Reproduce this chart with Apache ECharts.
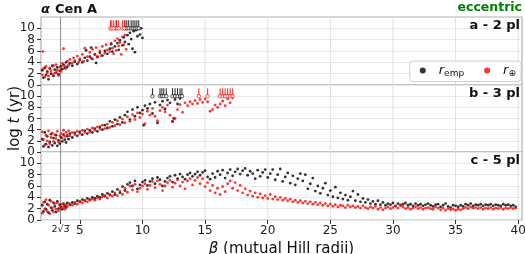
<!DOCTYPE html>
<html><head><meta charset="utf-8">
<script src="https://cdn.jsdelivr.net/npm/echarts@6/dist/echarts.min.js"></script>
<style>html,body{margin:0;padding:0;background:#fff}#c{width:525px;height:254px}</style>
</head><body><div id="c"></div>
<script>
// ---------- data (beta in mutual Hill radii, log t in yr) ----------
const xTickValues=[2*Math.sqrt(3),5,10,15,20,25,30,35,40];
const yTickValues=[0,2,4,6,8,10];
const panelLabels=['a - 2 pl','b - 3 pl','c - 5 pl'];
const seriesNames=['remp','rearth'];
const survivalLogT=10;

// panel a - 2 planets
const aEmp=[[2.0,2.6],[2.1,1.3],[2.2,3.0],[2.3,1.8],[2.4,2.4],[2.5,1.0],[2.6,2.9],[2.7,2.0],[2.8,3.4],[2.9,1.6],[3.0,2.7],[3.1,2.2],[3.2,3.1],[3.3,1.9],[3.4,2.5],[3.5,3.3],[3.6,2.8],[3.7,3.6],[3.8,3.0],[3.9,4.0],[4.0,3.2],[4.2,3.8],[4.4,3.4],[4.6,4.1],[4.8,3.7],[5.0,4.4],[5.2,4.0],[5.4,4.8],[5.5,6.1],[5.6,4.3],[5.8,5.0],[5.9,6.6],[6.0,4.6],[6.2,5.4],[6.3,3.9],[6.4,5.0],[6.6,5.7],[6.8,5.2],[7.0,6.0],[7.2,5.5],[7.4,6.4],[7.5,7.2],[7.6,5.9],[7.8,6.8],[8.0,7.4],[8.1,6.2],[8.2,7.9],[8.4,7.0],[8.5,8.4],[8.6,7.6],[8.8,8.8],[8.9,7.2],[9.0,9.2],[9.1,8.1],[9.2,6.4],[9.3,9.5],[9.4,5.8],[9.5,9.7],[9.6,8.6],[9.7,9.9],[9.8,8.9],[9.9,10.0],[10.0,8.3]];
const aEarth=[[2.0,1.8],[2.05,5.9],[2.1,2.9],[2.2,1.4],[2.3,3.3],[2.4,2.2],[2.5,1.6],[2.6,3.0],[2.7,2.5],[2.8,1.9],[2.9,3.4],[3.0,2.1],[3.1,3.6],[3.2,2.6],[3.3,1.7],[3.4,3.1],[3.5,2.4],[3.6,3.8],[3.7,6.4],[3.8,3.3],[3.9,2.9],[4.0,4.2],[4.1,3.5],[4.2,4.5],[4.4,3.9],[4.5,4.8],[4.6,4.3],[4.8,5.1],[4.9,4.0],[5.0,4.6],[5.2,5.4],[5.3,4.2],[5.4,6.5],[5.6,5.0],[5.8,5.8],[5.9,4.7],[6.0,6.3],[6.2,5.4],[6.3,6.6],[6.4,4.9],[6.6,6.0],[6.7,5.2],[6.8,6.8],[7.0,5.6],[7.1,7.1],[7.2,6.2],[7.4,5.9],[7.5,7.4],[7.6,6.5],[7.7,5.5],[7.8,7.8],[7.9,6.1],[8.0,8.2],[8.1,6.9],[8.2,7.5],[8.3,5.4],[8.4,8.5],[8.5,7.1],[8.6,8.8],[8.7,6.3]];
const aEmpSurvivors=[7.9,8.6,8.75,8.9,9.1,9.25,9.4,9.55,9.7];
const aEarthSurvivors=[7.45,7.55,7.7,7.95,8.1,8.4,8.55];

// panel b - 3 planets
const bEmp=[[2.0,2.3],[2.1,1.0],[2.2,3.5],[2.3,1.4],[2.4,2.8],[2.5,0.9],[2.6,1.8],[2.7,3.2],[2.8,1.2],[2.9,2.5],[3.0,1.6],[3.1,3.0],[3.2,1.1],[3.3,2.1],[3.4,1.5],[3.5,2.6],[3.6,1.9],[3.7,3.1],[3.8,2.2],[3.9,1.7],[4.0,2.8],[4.1,2.3],[4.2,3.3],[4.4,2.6],[4.6,3.4],[4.8,2.9],[5.0,3.6],[5.2,3.1],[5.4,3.8],[5.6,3.3],[5.8,3.9],[6.0,3.5],[6.2,4.2],[6.4,3.7],[6.6,4.5],[6.8,4.0],[7.0,4.8],[7.2,4.3],[7.4,5.5],[7.6,4.6],[7.8,5.8],[8.0,5.0],[8.2,6.2],[8.4,5.3],[8.6,6.6],[8.8,7.2],[9.0,5.8],[9.2,7.6],[9.4,6.4],[9.6,8.0],[9.8,7.0],[10.0,7.5],[10.1,4.8],[10.2,8.3],[10.4,7.8],[10.6,8.6],[10.8,6.9],[11.0,8.9],[11.2,5.2],[11.4,8.4],[11.6,9.1],[11.8,7.7],[12.0,9.3],[12.2,8.8],[12.4,5.5],[12.5,6.0],[12.6,9.4],[12.8,8.6],[13.0,9.6]];
const bEarth=[[2.0,3.6],[2.1,2.2],[2.2,1.3],[2.3,3.0],[2.4,2.0],[2.5,3.8],[2.6,1.5],[2.7,2.6],[2.8,3.4],[2.9,1.9],[3.0,3.1],[3.1,2.4],[3.2,3.7],[3.3,1.8],[3.4,2.9],[3.5,3.3],[3.6,2.5],[3.7,3.9],[3.8,2.8],[3.9,3.5],[4.0,3.0],[4.1,3.8],[4.2,2.9],[4.4,3.5],[4.6,3.1],[4.8,3.7],[5.0,3.3],[5.2,3.9],[5.4,3.5],[5.6,4.1],[5.8,3.6],[6.0,4.3],[6.2,3.9],[6.4,4.5],[6.6,4.1],[6.8,4.8],[7.0,4.2],[7.2,5.0],[7.4,4.4],[7.6,5.3],[7.8,4.7],[8.0,5.6],[8.2,4.9],[8.4,5.9],[8.6,5.2],[8.8,6.3],[9.0,5.5],[9.2,6.7],[9.4,5.8],[9.6,7.0],[9.8,6.2],[10.0,6.8],[10.2,5.1],[10.4,7.3],[10.6,6.6],[10.8,7.8],[11.0,6.4],[11.2,5.6],[11.4,7.4],[11.6,8.0],[11.8,7.2],[12.0,8.4],[12.2,6.6],[12.4,5.4],[12.6,6.0],[12.8,7.6],[13.0,8.5],[13.2,7.1],[13.4,8.8],[13.6,8.3],[13.8,9.0],[14.0,8.6],[14.2,9.2],[14.4,8.7],[14.6,9.4],[14.8,8.9],[15.0,9.5],[15.2,9.0],[15.4,7.3],[15.6,7.6],[15.8,8.4],[16.0,8.0],[16.2,8.6],[16.4,9.1],[16.6,8.3],[16.8,9.5],[17.0,8.8],[17.2,9.7]];
const bEmpSurvivors=[10.8,11.4,11.55,11.7,11.9,12.4,12.6,12.8,13.0,13.15];
const bEarthSurvivors=[14.5,15.2,16.2,16.4,16.6,16.8,17.0,17.2];

// panel c - 5 planets
const cEmp=[[2.0,2.6],[2.1,1.5],[2.2,3.2],[2.3,1.9],[2.4,2.8],[2.5,1.3],[2.6,3.5],[2.7,2.2],[2.8,1.7],[2.9,3.0],[3.0,2.4],[3.1,1.4],[3.2,3.3],[3.3,2.0],[3.4,2.7],[3.5,2.3],[3.6,1.9],[3.7,2.9],[3.8,2.5],[3.9,2.2],[4.0,3.0],[4.2,2.7],[4.4,3.1],[4.6,2.9],[4.8,3.4],[5.0,3.2],[5.2,3.6],[5.4,3.4],[5.6,3.8],[5.8,3.6],[6.0,4.0],[6.2,3.8],[6.4,4.2],[6.6,4.0],[6.8,4.5],[7.0,4.2],[7.2,4.7],[7.4,4.4],[7.6,5.0],[7.8,4.5],[8.0,5.4],[8.2,4.8],[8.4,5.9],[8.6,5.2],[8.8,6.3],[9.0,6.6],[9.2,6.0],[9.4,6.9],[9.6,5.5],[9.8,6.2],[10.0,6.7],[10.2,7.0],[10.4,6.1],[10.6,6.8],[10.8,7.3],[11.0,6.4],[11.2,7.5],[11.4,7.1],[11.6,6.0],[11.8,6.8],[12.0,7.4],[12.2,7.7],[12.4,6.7],[12.6,7.9],[12.8,7.3],[13.0,8.1],[13.2,7.6],[13.4,7.2],[13.6,8.0],[13.8,8.3],[14.0,7.7],[14.2,8.1],[14.4,8.5],[14.6,7.9],[14.8,8.4],[15.0,8.7],[15.2,7.6],[15.4,7.2],[15.6,8.2],[15.8,7.5],[16.0,8.6],[16.2,8.0],[16.4,8.8],[16.6,7.4],[16.8,8.3],[17.0,8.9],[17.2,7.8],[17.4,8.5],[17.6,9.0],[17.8,8.1],[18.0,8.7],[18.2,9.1],[18.4,7.9],[18.6,8.6],[18.8,8.2],[19.0,7.3],[19.2,8.8],[19.4,7.7],[19.6,8.4],[19.8,8.9],[20.0,7.5],[20.2,8.2],[20.4,8.9],[20.6,7.1],[20.8,8.0],[21.0,9.0],[21.2,6.8],[21.4,7.6],[21.6,8.3],[21.8,6.5],[22.0,7.8],[22.2,6.2],[22.4,7.3],[22.6,8.2],[22.8,6.9],[23.0,8.0],[23.2,5.5],[23.4,6.4],[23.6,7.4],[23.8,5.1],[24.0,6.0],[24.2,4.7],[24.4,5.6],[24.6,6.5],[24.8,4.4],[25.0,5.2],[25.2,4.1],[25.4,5.8],[25.6,3.9],[25.8,4.8],[26.0,3.7],[26.2,4.4],[26.4,3.5],[26.6,4.1],[26.8,5.1],[27.0,3.4],[27.2,4.5],[27.4,3.2],[27.6,3.8],[27.8,3.1],[28.0,3.6],[28.2,2.9],[28.4,3.3],[28.6,2.8],[28.8,3.4],[29.0,2.7],[29.2,3.1],[29.4,2.6],[29.6,2.9],[29.8,2.7],[30.0,3.0],[30.2,2.5],[30.4,2.9],[30.6,2.6],[30.8,2.8],[31.0,3.0],[31.2,2.6],[31.4,2.8],[31.6,2.5],[31.8,2.9],[32.0,2.6],[32.2,2.8],[32.4,2.5],[32.6,2.7],[32.8,2.9],[33.0,2.6],[33.2,2.4],[33.4,2.7],[33.6,2.8],[33.8,2.3],[34.0,2.6],[34.2,2.9],[34.4,2.4],[34.6,2.2],[34.8,2.6],[35.0,2.5],[35.2,2.3],[35.4,2.6],[35.6,2.4],[35.8,2.8],[36.0,2.6],[36.2,2.9],[36.4,2.5],[36.6,2.7],[36.8,2.6],[37.0,2.8],[37.2,2.5],[37.4,2.7],[37.6,2.6],[37.8,2.8],[38.0,2.5],[38.2,2.7],[38.4,2.6],[38.6,2.5],[38.8,2.8],[39.0,2.6],[39.2,2.7],[39.4,2.5],[39.6,2.6],[39.8,2.3]];
const cEarth=[[2.0,1.2],[2.1,3.1],[2.2,2.0],[2.3,3.6],[2.4,1.5],[2.5,2.6],[2.6,1.1],[2.7,3.3],[2.8,2.1],[2.9,1.4],[3.0,2.9],[3.1,1.9],[3.2,3.0],[3.3,1.6],[3.4,2.5],[3.5,2.0],[3.6,2.8],[3.7,2.3],[3.8,1.9],[3.9,2.7],[4.0,2.4],[4.2,2.9],[4.4,2.6],[4.6,3.1],[4.8,2.8],[5.0,3.3],[5.2,3.0],[5.4,3.4],[5.6,3.2],[5.8,3.5],[6.0,3.7],[6.2,3.5],[6.4,3.9],[6.6,3.7],[6.8,4.1],[7.0,4.3],[7.2,3.9],[7.4,4.5],[7.6,4.2],[7.8,4.8],[8.0,4.3],[8.2,5.1],[8.4,4.5],[8.6,5.6],[8.8,4.9],[9.0,6.0],[9.2,5.3],[9.4,6.3],[9.6,5.0],[9.8,5.6],[10.0,6.0],[10.2,6.4],[10.4,5.4],[10.6,6.1],[10.8,6.8],[11.0,5.7],[11.2,6.9],[11.4,6.3],[11.6,5.2],[11.8,6.0],[12.0,6.6],[12.2,7.0],[12.4,5.8],[12.6,6.5],[12.8,7.1],[13.0,6.0],[13.2,6.7],[13.4,5.5],[13.6,6.9],[13.8,7.3],[14.0,6.2],[14.2,7.0],[14.4,7.5],[14.6,6.4],[14.8,7.3],[15.0,5.9],[15.2,6.6],[15.4,5.2],[15.6,6.1],[15.8,4.8],[16.0,5.6],[16.2,4.5],[16.4,5.9],[16.6,5.0],[16.8,6.4],[17.0,6.9],[17.2,5.6],[17.4,6.6],[17.6,5.2],[17.8,6.1],[18.0,4.8],[18.2,5.5],[18.4,4.4],[18.6,5.1],[18.8,4.2],[19.0,4.8],[19.2,4.0],[19.4,4.6],[19.6,3.9],[19.8,4.3],[20.0,3.8],[20.2,4.5],[20.4,3.7],[20.6,4.1],[20.8,3.6],[21.0,4.0],[21.2,3.5],[21.4,3.8],[21.6,3.4],[21.8,3.7],[22.0,3.2],[22.2,3.5],[22.4,3.1],[22.6,3.4],[22.8,3.0],[23.0,3.3],[23.2,2.9],[23.4,3.2],[23.6,2.8],[23.8,3.1],[24.0,2.7],[24.2,3.0],[24.4,2.6],[24.6,2.9],[24.8,2.5],[25.0,2.8],[25.2,2.4],[25.4,2.7],[25.6,2.3],[25.8,2.6],[26.0,2.5],[26.2,2.2],[26.4,2.6],[26.6,2.3],[26.8,2.5],[27.0,2.2],[27.2,2.4],[27.4,2.1],[27.6,2.5],[27.8,2.2],[28.0,2.0],[28.2,2.3],[28.4,2.1],[28.6,2.4],[28.8,1.9],[29.0,2.2],[29.2,1.8],[29.4,2.1],[29.6,2.3],[29.8,2.0],[30.0,2.2],[30.2,2.4],[30.4,2.1],[30.6,2.6],[30.8,2.3],[31.0,2.0],[31.2,2.2],[31.4,1.9],[31.6,2.1],[31.8,2.3],[32.0,2.0],[32.2,2.2],[32.4,1.9],[32.6,2.1],[32.8,2.2],[33.0,2.0],[33.2,1.9],[33.4,2.3],[33.6,2.1],[33.8,1.8],[34.0,2.1],[34.2,1.7],[34.4,2.0],[34.6,1.8],[34.8,1.9],[35.0,1.7],[35.2,1.9],[35.4,1.8],[35.6,2.0],[35.8,2.2],[36.0,2.0],[36.2,2.3],[36.4,2.1],[36.6,2.2],[36.8,2.0],[37.0,2.2],[37.2,1.9],[37.4,2.1],[37.6,2.0],[37.8,2.2],[38.0,1.9],[38.2,2.1],[38.4,2.0],[38.6,2.2],[38.8,1.9],[39.0,2.1],[39.2,2.0],[39.4,2.2],[39.6,2.0],[39.8,2.1]];

const panels=[
  {emp:aEmp, earth:aEarth, empSurv:aEmpSurvivors, earthSurv:aEarthSurvivors},
  {emp:bEmp, earth:bEarth, empSurv:bEmpSurvivors, earthSurv:bEarthSurvivors},
  {emp:cEmp, earth:cEarth, empSurv:[], earthSurv:[]}
];

// ---------- layout ----------
const FONT='DejaVu Sans';
const gridTops=[17,85,152], gridHeights=[68,67,68];
const X_MIN=1.9, X_MAX=40.3, Y_MIN=0, Y_MAX=12;
const colors={remp:'#000000', rearth:'#ff0000'};
const sqrt12=2*Math.sqrt(3);
const gridXs=[5,10,15,20,25,30,35,40];

const chart=echarts.init(document.getElementById('c'),null,{renderer:'canvas'});
const grids=[],xAxes=[],yAxes=[],series=[];
panels.forEach((p,i)=>{
  grids.push({left:41,right:3,top:gridTops[i],height:gridHeights[i],show:true,borderColor:'#b0b0b0',borderWidth:1.2,
    backgroundColor:'transparent',containLabel:false,outerBoundsMode:'none'});
  const last=i===2;
  xAxes.push({type:'value',gridIndex:i,min:X_MIN,max:X_MAX,
    axisLine:{show:false},
    axisTick:{show:last,customValues:xTickValues,length:4,lineStyle:{color:'#333'}},
    axisLabel:{show:last,customValues:xTickValues,fontFamily:FONT,fontSize:12,color:'#222',margin:5,
      formatter:v=>Math.abs(v-sqrt12)<0.01?'{s|2√3̅}':String(Math.round(v)),
      rich:{s:{fontSize:9.5,fontFamily:FONT,color:'#222'}}},
    splitLine:{show:false},
    name:last?'{i|β}{n| (mutual Hill radii)}':'',nameLocation:'middle',nameGap:22,
    nameTextStyle:{rich:{i:{fontStyle:'italic',fontSize:15,fontFamily:FONT,color:'#111'},n:{fontSize:15,fontFamily:FONT,color:'#111'}}}
  });
  yAxes.push({type:'value',gridIndex:i,min:Y_MIN,max:Y_MAX,interval:2,
    axisLine:{show:false},
    axisTick:{show:true,customValues:yTickValues,length:4,lineStyle:{color:'#333'}},
    axisLabel:{show:false},
    splitLine:{show:true,lineStyle:{color:'#e8e8e8',width:1}},
    name:i===1?'{n|log }{i|t}{n| (yr)}':'',nameLocation:'middle',nameGap:18,nameRotate:90,
    nameTextStyle:{rich:{i:{fontStyle:'italic',fontSize:15,fontFamily:FONT,color:'#111'},n:{fontSize:15,fontFamily:FONT,color:'#111'}}}
  });
  // guide lines: vertical grid lines and the 2*sqrt(3) reference line, spanning the axis range
  gridXs.concat([sqrt12]).forEach(v=>{
    const isRef=v===sqrt12;
    series.push({type:'line',xAxisIndex:i,yAxisIndex:i,data:[[v,Y_MIN],[v,Y_MAX]],showSymbol:false,symbol:'none',
      silent:true,z:isRef?2:1,animation:false,
      lineStyle:{color:isRef?'#8a8a8a':'#e0e0e0',width:1}});
  });
  series.push({name:'remp',type:'scatter',xAxisIndex:i,yAxisIndex:i,data:p.emp,symbol:'circle',symbolSize:2.8,
    itemStyle:{color:colors.remp},z:3,animation:false});
  series.push({name:'rearth',type:'scatter',xAxisIndex:i,yAxisIndex:i,data:p.earth,symbol:'circle',symbolSize:2.8,
    itemStyle:{color:colors.rearth},z:4,animation:false});
  [['emp',p.empSurv,colors.remp],['earth',p.earthSurv,colors.rearth]].forEach(([k,arr,col])=>{
    if(!arr.length)return;
    const d=arr.map(b=>[b,survivalLogT]);
    series.push({name:'surv-'+k+i,type:'scatter',xAxisIndex:i,yAxisIndex:i,data:d,symbol:'rect',symbolSize:[1.1,8],
      symbolOffset:[0,-4],itemStyle:{color:col},z:5,animation:false});
    series.push({name:'ring-'+k+i,type:'scatter',xAxisIndex:i,yAxisIndex:i,data:d,symbol:'circle',symbolSize:3.5,
      itemStyle:{color:'#fff',borderColor:col,borderWidth:0.8},z:5,animation:false});
  });
});

const titleRich={a:{fontStyle:'italic',fontSize:13,fontFamily:FONT,color:'#111'},b:{fontWeight:'bold',fontSize:13,fontFamily:FONT,color:'#111'}};
const titles=[
  {text:'{a|α} {b|Cen A}',left:41,top:1,padding:0,textStyle:{rich:titleRich}},
  {text:'eccentric',right:3,top:1,padding:0,textStyle:{color:'#008000',fontWeight:'bold',fontSize:12.5,fontFamily:FONT}}
];
panelLabels.forEach((t,i)=>titles.push({text:t,right:5,top:gridTops[i]+2,padding:0,
  textStyle:{fontWeight:'bold',fontSize:13,fontFamily:FONT,color:'#111'}}));

chart.setOption({
  animation:false,
  backgroundColor:'#fff',
  title:titles,
  grid:grids,xAxis:xAxes,yAxis:yAxes,series:series,
  legend:{data:seriesNames,right:4,top:61,padding:[3,5,3,10],itemGap:20,itemWidth:6,itemHeight:6,icon:'circle',
    borderColor:'#d0d0d0',borderWidth:1,borderRadius:3,backgroundColor:'rgba(255,255,255,0.85)',
    formatter:n=>n==='remp'?'{g|}{i|r}{s|emp}':'{g|}{i|r}{s|⊕}',
    textStyle:{rich:{g:{width:8},i:{fontStyle:'italic',fontSize:13,fontFamily:FONT,color:'#111'},s:{fontSize:9,fontFamily:FONT,color:'#111',padding:[7,0,0,0]}}}}
});

// y tick labels placed through each panel's own axis scale (avoids automatic label thinning)
const yLabelGraphics=[];
panels.forEach((p,i)=>{
  yTickValues.forEach(v=>{
    const pt=chart.convertToPixel({xAxisIndex:i,yAxisIndex:i},[X_MIN,v]);
    yLabelGraphics.push({type:'text',x:pt[0]-6,y:pt[1],silent:true,z:10,
      style:{text:String(v),align:'right',verticalAlign:'middle',font:'12px "DejaVu Sans"',fill:'#222'}});
  });
});
chart.setOption({graphic:yLabelGraphics});
</script></body></html>
